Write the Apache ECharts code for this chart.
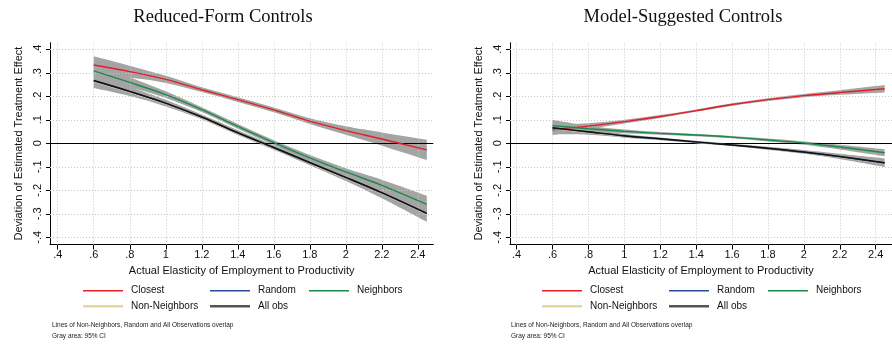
<!DOCTYPE html>
<html>
<head>
<meta charset="utf-8">
<script src="https://cdn.jsdelivr.net/npm/echarts@6/dist/echarts.min.js"></script>
<style>
html,body{margin:0;padding:0;background:#fff}
#chart{width:892px;height:344px}
</style>
</head>
<body>
<div id="chart"></div>
<script>
// Elasticity grid at which the fitted curves are evaluated
const elasticity = [0.6, 0.8, 1.0, 1.2, 1.4, 1.6, 1.8, 2.0, 2.2, 2.45];

// Axis ticks
const xTicks = [0.4, 0.6, 0.8, 1.0, 1.2, 1.4, 1.6, 1.8, 2.0, 2.2, 2.4];
const xTickLabels = ['.4', '.6', '.8', '1', '1.2', '1.4', '1.6', '1.8', '2', '2.2', '2.4'];
const yTicks = [-0.4, -0.3, -0.2, -0.1, 0, 0.1, 0.2, 0.3, 0.4];
const yTickLabels = ['-.4', '-.3', '-.2', '-.1', '0', '.1', '.2', '.3', '.4'];

// Reduced-form controls: fitted deviations
const rfClosest      = [0.333, 0.305, 0.272, 0.228, 0.186, 0.142, 0.094, 0.054, 0.018, -0.028];
const rfRandom       = [0.266, 0.220, 0.170, 0.111, 0.044, -0.019, -0.083, -0.146, -0.211, -0.299];
const rfNeighbors    = [0.308, 0.259, 0.207, 0.143, 0.072, 0.003, -0.062, -0.122, -0.179, -0.260];
const rfNonNeighbors = [0.264, 0.218, 0.168, 0.109, 0.042, -0.021, -0.085, -0.148, -0.213, -0.301];
const rfAllObs       = [0.267, 0.221, 0.171, 0.112, 0.045, -0.018, -0.082, -0.145, -0.210, -0.298];
// Reduced-form controls: 95% confidence bounds
const rfClosestLo    = [0.296, 0.280, 0.257, 0.218, 0.176, 0.132, 0.082, 0.036, -0.010, -0.071];
const rfClosestHi    = [0.370, 0.330, 0.287, 0.238, 0.196, 0.152, 0.106, 0.072, 0.046, 0.015];
const rfNeighborsLo  = [0.273, 0.237, 0.193, 0.133, 0.062, -0.007, -0.074, -0.138, -0.203, -0.297];
const rfNeighborsHi  = [0.343, 0.281, 0.221, 0.153, 0.082, 0.013, -0.050, -0.106, -0.155, -0.223];
const rfAllObsLo     = [0.235, 0.201, 0.157, 0.102, 0.035, -0.028, -0.094, -0.161, -0.234, -0.334];
const rfAllObsHi     = [0.299, 0.241, 0.185, 0.122, 0.055, -0.008, -0.070, -0.129, -0.186, -0.262];

// Model-suggested controls: fitted deviations
const msClosest      = [0.057, 0.073, 0.092, 0.114, 0.139, 0.165, 0.186, 0.203, 0.216, 0.232];
const msRandom       = [0.065, 0.048, 0.031, 0.018, 0.005, -0.008, -0.022, -0.038, -0.057, -0.084];
const msNeighbors    = [0.075, 0.062, 0.051, 0.042, 0.035, 0.026, 0.014, 0.001, -0.016, -0.040];
const msNonNeighbors = [0.064, 0.047, 0.030, 0.017, 0.004, -0.009, -0.023, -0.039, -0.058, -0.085];
const msAllObs       = [0.066, 0.049, 0.032, 0.019, 0.006, -0.007, -0.021, -0.037, -0.056, -0.083];
// Model-suggested controls: 95% confidence bounds
const msClosestLo    = [0.035, 0.061, 0.084, 0.108, 0.134, 0.160, 0.180, 0.196, 0.206, 0.216];
const msClosestHi    = [0.079, 0.085, 0.100, 0.120, 0.144, 0.170, 0.192, 0.210, 0.226, 0.248];
const msNeighborsLo  = [0.050, 0.050, 0.043, 0.036, 0.030, 0.021, 0.008, -0.006, -0.026, -0.055];
const msNeighborsHi  = [0.100, 0.074, 0.059, 0.048, 0.040, 0.031, 0.020, 0.008, -0.006, -0.025];
const msAllObsLo     = [0.038, 0.036, 0.024, 0.013, 0.001, -0.012, -0.027, -0.045, -0.067, -0.101];
const msAllObsHi     = [0.094, 0.062, 0.040, 0.025, 0.011, -0.002, -0.015, -0.029, -0.045, -0.065];

const SANS = 'Liberation Sans, Arial, sans-serif';
const SERIF = 'Liberation Serif, DejaVu Serif, serif';
const COLORS = {
  'Closest': '#e31e26',
  'Random': '#2a4b9b',
  'Neighbors': '#1a8a4a',
  'Non-Neighbors': '#e6d6a2',
  'All obs': '#111111'
};
const BAND = '#a4a4a4';
const SMOOTH = 0.33;

const pairs = (ys) => elasticity.map((x, i) => [x, ys[i]]);
const labelFor = (ticks, labels) => (v) => {
  let best = 0;
  ticks.forEach((t, i) => { if (Math.abs(t - v) < Math.abs(ticks[best] - v)) best = i; });
  return labels[best];
};

function xAxisFor(gridIndex, min, max) {
  return {
    gridIndex, type: 'value', min, max,
    axisLine: { show: true, onZero: false, lineStyle: { color: '#000', width: 1 } },
    axisTick: { show: true, length: 5, customValues: xTicks, lineStyle: { color: '#000' } },
    axisLabel: { customValues: xTicks, formatter: labelFor(xTicks, xTickLabels),
      fontSize: 11, color: '#111', margin: 5, fontFamily: SANS },
    splitLine: { show: false },
    name: 'Actual Elasticity of Employment to Productivity',
    nameLocation: 'middle', nameGap: 18,
    nameTextStyle: { fontSize: 11, color: '#111', fontFamily: SANS }
  };
}
function yAxisFor(gridIndex) {
  return {
    gridIndex, type: 'value', min: -0.4307, max: 0.428,
    axisLine: { show: true, onZero: false, lineStyle: { color: '#000', width: 1 } },
    axisTick: { show: true, length: 4, customValues: yTicks, lineStyle: { color: '#000' } },
    axisLabel: { customValues: yTicks, formatter: labelFor(yTicks, yTickLabels),
      rotate: 90, fontSize: 11, color: '#111', margin: 7, fontFamily: SANS },
    splitLine: { show: false },
    name: 'Deviation of Estimated Treatment Effect',
    nameLocation: 'middle', nameGap: 26,
    nameTextStyle: { fontSize: 11, color: '#111', fontFamily: SANS }
  };
}

// Dotted reference grid plus the solid zero line, placed through the axes
function gridLines(idx) {
  return [{
    type: 'line', xAxisIndex: idx, yAxisIndex: idx, data: [], silent: true, z: 1,
    markLine: {
      silent: true, symbol: 'none', animation: false, label: { show: false },
      lineStyle: { type: [1, 2], color: '#c8c8c8', width: 1 },
      data: xTicks.map(v => ({ xAxis: v })).concat(yTicks.filter(v => v !== 0).map(v => ({ yAxis: v })))
    }
  }, {
    type: 'line', xAxisIndex: idx, yAxisIndex: idx, data: [], silent: true, z: 4,
    markLine: {
      silent: true, symbol: 'none', animation: false, label: { show: false },
      lineStyle: { type: 'solid', color: '#000', width: 1 },
      data: [{ yAxis: 0 }]
    }
  }];
}

// Cubic segments through projected points (Catmull-Rom style tangents)
function curvePath(pts, startWithMove) {
  let d = startWithMove ? 'M' + pts[0][0] + ',' + pts[0][1] : 'L' + pts[0][0] + ',' + pts[0][1];
  for (let i = 0; i < pts.length - 1; i++) {
    const p0 = pts[Math.max(i - 1, 0)], p1 = pts[i], p2 = pts[i + 1], p3 = pts[Math.min(i + 2, pts.length - 1)];
    const c1 = [p1[0] + (p2[0] - p0[0]) / 6, p1[1] + (p2[1] - p0[1]) / 6];
    const c2 = [p2[0] - (p3[0] - p1[0]) / 6, p2[1] - (p3[1] - p1[1]) / 6];
    d += 'C' + c1[0] + ',' + c1[1] + ' ' + c2[0] + ',' + c2[1] + ' ' + p2[0] + ',' + p2[1];
  }
  return d;
}

// Confidence band: filled region between the lower and upper bound curves
function band(idx, lo, hi) {
  return {
    type: 'custom', coordinateSystem: 'cartesian2d', xAxisIndex: idx, yAxisIndex: idx,
    silent: true, z: 2,
    data: elasticity.map((x, i) => [x, lo[i], hi[i]]),
    encode: { x: 0, y: [1, 2] },
    renderItem: (params, api) => {
      if (params.dataIndex !== 0) return null;
      const upper = elasticity.map((x, i) => api.coord([x, hi[i]]));
      const lower = elasticity.map((x, i) => api.coord([x, lo[i]])).reverse();
      const pathData = curvePath(upper, true) + curvePath(lower, false) + 'Z';
      return { type: 'path', shape: { pathData }, style: { fill: BAND, stroke: null } };
    }
  };
}

function curve(idx, name, ys, width) {
  return {
    type: 'line', name, xAxisIndex: idx, yAxisIndex: idx, data: pairs(ys),
    smooth: SMOOTH, symbol: 'none', z: 5,
    lineStyle: { color: COLORS[name], width }, itemStyle: { color: COLORS[name] }
  };
}

function panelSeries(idx, d) {
  return [
    ...gridLines(idx),
    band(idx, d.closestLo, d.closestHi),
    band(idx, d.neighborsLo, d.neighborsHi),
    band(idx, d.allLo, d.allHi),
    curve(idx, 'Closest', d.closest, 1.4),
    curve(idx, 'Neighbors', d.neighbors, 1.4),
    curve(idx, 'Non-Neighbors', d.nonNeighbors, 1.6),
    curve(idx, 'Random', d.random, 1.4),
    curve(idx, 'All obs', d.all, 1.5)
  ];
}

const thin = 'path://M0,0L40,0L40,1.4L0,1.4Z';
const thick = 'path://M0,0L40,0L40,2.6L0,2.6Z';
function legendItem(name, left, top, icon, color) {
  return {
    left, top, padding: 0, itemWidth: 40, itemHeight: 12, selectedMode: false,
    icon,
    data: [{ name, itemStyle: { color } }],
    textStyle: { fontSize: 10, color: '#111', fontFamily: SANS, padding: [0, 0, 0, 3] }
  };
}
function panelLegend(dx) {
  return [
    legendItem('Closest', 83 + dx, 285.7, thin, COLORS['Closest']),
    legendItem('Random', 210 + dx, 285.7, thin, COLORS['Random']),
    legendItem('Neighbors', 309 + dx, 285.7, thin, COLORS['Neighbors']),
    legendItem('Non-Neighbors', 83 + dx, 301.3, thick, COLORS['Non-Neighbors']),
    legendItem('All obs', 210 + dx, 301.3, thick, '#555555')
  ];
}

function note(text, left, top) {
  return { text, left, top, padding: 0,
    textStyle: { fontSize: 6.5, fontWeight: 'normal', color: '#222', fontFamily: SANS } };
}

const option = {
  animation: false,
  backgroundColor: '#fff',
  title: [
    { text: 'Reduced-Form Controls', left: 223, top: 8, textAlign: 'center', padding: 0,
      textStyle: { fontSize: 18.5, fontWeight: 'normal', color: '#111', fontFamily: SERIF } },
    { text: 'Model-Suggested Controls', left: 683, top: 8, textAlign: 'center', padding: 0,
      textStyle: { fontSize: 18.5, fontWeight: 'normal', color: '#111', fontFamily: SERIF } },
    note('Lines of Non-Neighbors, Random and All Observations overlap', 52, 322),
    note('Gray area: 95% CI', 52, 333),
    note('Lines of Non-Neighbors, Random and All Observations overlap', 511, 322),
    note('Gray area: 95% CI', 511, 333)
  ],
  legend: [...panelLegend(0), ...panelLegend(459)],
  grid: [
    { left: 50, top: 42.7, width: 383.3, height: 201.8 },
    { left: 510, top: 42.7, width: 383, height: 201.8 }
  ],
  xAxis: [xAxisFor(0, 0.357, 2.486), xAxisFor(1, 0.363, 2.491)],
  yAxis: [yAxisFor(0), yAxisFor(1)],
  series: [
    ...panelSeries(0, {
      closest: rfClosest, random: rfRandom, neighbors: rfNeighbors,
      nonNeighbors: rfNonNeighbors, all: rfAllObs,
      closestLo: rfClosestLo, closestHi: rfClosestHi,
      neighborsLo: rfNeighborsLo, neighborsHi: rfNeighborsHi,
      allLo: rfAllObsLo, allHi: rfAllObsHi
    }),
    ...panelSeries(1, {
      closest: msClosest, random: msRandom, neighbors: msNeighbors,
      nonNeighbors: msNonNeighbors, all: msAllObs,
      closestLo: msClosestLo, closestHi: msClosestHi,
      neighborsLo: msNeighborsLo, neighborsHi: msNeighborsHi,
      allLo: msAllObsLo, allHi: msAllObsHi
    })
  ]
};

const chart = echarts.init(document.getElementById('chart'), null, { renderer: 'canvas' });
chart.setOption(option);
</script>
</body>
</html>
